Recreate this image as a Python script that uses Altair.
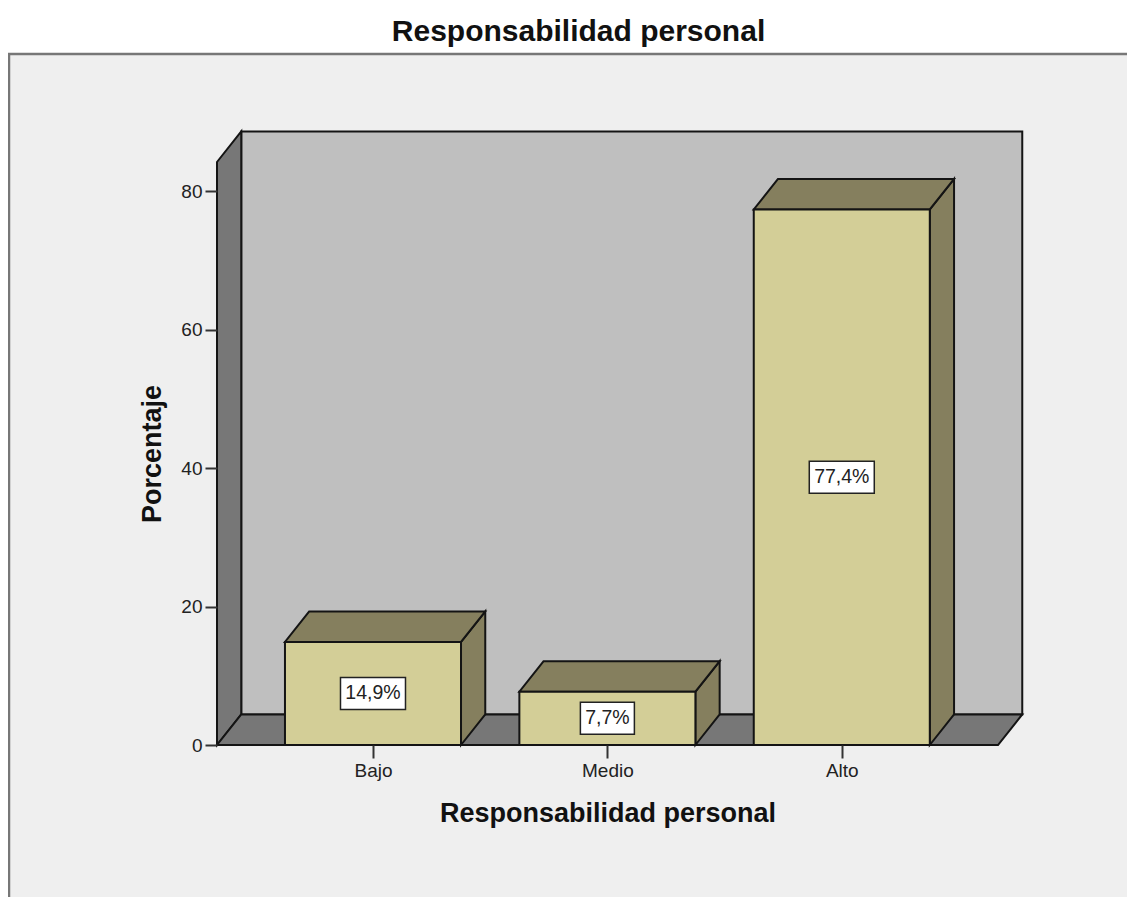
import altair as alt
import pandas as pd

categories = ["Bajo", "Medio", "Alto"]
values = [14.9, 7.7, 77.4]
labels = ["14,9%", "7,7%", "77,4%"]
y_ticks = [0, 20, 40, 60, 80]

PW, PH = 781, 583
XMIN, XMAX = -0.6655, 2.6665
YMAX = 84.25
HALF = 0.3755
DX, DY = 0.1035, 4.41
PX_X = (XMAX - XMIN) / PW
PX_Y = YMAX / PH

FRONT = "#d3ce97"
SIDE = "#857f5e"
WALL = "#777777"
BACK = "#bfbfbf"
PANEL = "#efefef"
LINE = "#141414"
FONT = "Liberation Sans"

xs = alt.Scale(domain=[XMIN, XMAX], nice=False, zero=False)
ys = alt.Scale(domain=[0, YMAX], nice=False, zero=False)
X = alt.X("x:Q", scale=xs, axis=alt.Axis(
    values=[0, 1, 2], labelExpr="['Bajo','Medio','Alto'][datum.value]", zindex=1,
    title="Responsabilidad personal", titleFont=FONT, titleFontSize=27, titleFontWeight="bold",
    titleColor="#111111", titlePadding=20, labelFont=FONT, labelFontSize=19, labelColor="#222222",
    labelPadding=3, tickSize=13, tickWidth=2, tickColor="#333333", domain=False, grid=False))
Y = alt.Y("y:Q", scale=ys, axis=alt.Axis(
    values=y_ticks, format="d", title="Porcentaje", titleFont=FONT, titleFontSize=27, zindex=1,
    titleFontWeight="bold", titleColor="#111111", titlePadding=14, labelFont=FONT, labelFontSize=19,
    labelColor="#222222", labelPadding=3, tickSize=12, tickWidth=2, tickColor="#333333",
    domain=False, grid=False))

# panel behind the chart
panel = alt.Chart(pd.DataFrame({"a": [0]})).mark_rect(fill=PANEL).encode(
    x=alt.value(-209), x2=alt.value(910), y=alt.value(-108), y2=alt.value(735))
frame_top = alt.Chart(pd.DataFrame({"a": [0]})).mark_rule(color=WALL, strokeWidth=2.5).encode(
    x=alt.value(-209), x2=alt.value(910), y=alt.value(-108))
frame_left = alt.Chart(pd.DataFrame({"a": [0]})).mark_rule(color=WALL, strokeWidth=2.5).encode(
    x=alt.value(-208), y=alt.value(-108), y2=alt.value(735))

# vertical-edged parallelograms (left wall, bar sides)
vert, horiz, front = [], [], []
vert += [
    {"face": "wall", "fill": WALL, "x": XMIN, "y": YMAX, "y2": 0},
    {"face": "wall", "fill": WALL, "x": XMIN + DX, "y": YMAX + DY, "y2": DY},
]
horiz += [
    {"face": "floor", "fill": WALL, "y": 0, "x": XMIN, "x2": XMAX},
    {"face": "floor", "fill": WALL, "y": DY, "x": XMIN + DX, "x2": XMAX + DX},
]
back = pd.DataFrame([{"x": XMIN + DX, "x2": XMAX + DX, "y": DY, "y2": YMAX + DY}])
for i, v in enumerate(values):
    l, r = i - HALF, i + HALF
    vert += [
        {"face": f"s{i}", "fill": SIDE, "x": r, "y": v, "y2": 0},
        {"face": f"s{i}", "fill": SIDE, "x": r + DX, "y": v + DY, "y2": DY},
    ]
    horiz += [
        {"face": f"t{i}", "fill": SIDE, "y": v, "x": l, "x2": r},
        {"face": f"t{i}", "fill": SIDE, "y": v + DY, "x": l + DX, "x2": r + DX},
    ]
    front.append({"x": l, "x2": r, "y": 0, "y2": v})

vdf, hdf, fdf = pd.DataFrame(vert), pd.DataFrame(horiz), pd.DataFrame(front)
stroke = dict(stroke=LINE, strokeWidth=2, strokeJoin="miter")

back_l = alt.Chart(back).mark_rect(fill=BACK, **stroke).encode(x=X, x2="x2:Q", y=alt.Y("y:Q", scale=ys), y2="y2:Q")
vert_l = lambda d: alt.Chart(d).mark_area(orient="vertical", **stroke).encode(
    x=X, y=alt.Y("y:Q", scale=ys), y2="y2:Q", detail="face:N", fill=alt.Fill("fill:N", scale=None))
horiz_l = lambda d: alt.Chart(d).mark_area(orient="horizontal", **stroke).encode(
    x=alt.X("x:Q", scale=xs), x2="x2:Q", y=Y, detail="face:N", fill=alt.Fill("fill:N", scale=None))

walls_v = vert_l(vdf[vdf.face == "wall"])
walls_h = horiz_l(hdf[hdf.face == "floor"])
sides = vert_l(vdf[vdf.face != "wall"])
tops = horiz_l(hdf[hdf.face != "floor"])
fronts = alt.Chart(fdf).mark_rect(fill=FRONT, **stroke).encode(
    x=alt.X("x:Q", scale=xs), x2="x2:Q", y=alt.Y("y:Q", scale=ys), y2="y2:Q")

box_w = [65, 54, 65]
box_h = 32
lab = pd.DataFrame({
    "x": [i - box_w[i] * PX_X / 2 for i in range(3)],
    "x2": [i + box_w[i] * PX_X / 2 for i in range(3)],
    "xc": [0, 1, 2],
    "y": [v / 2 - box_h * PX_Y / 2 for v in values],
    "y2": [v / 2 + box_h * PX_Y / 2 for v in values],
    "yc": [v / 2 for v in values],
    "label": labels,
})
boxes = alt.Chart(lab).mark_rect(fill="white", stroke="#222222", strokeWidth=1.5).encode(
    x=alt.X("x:Q", scale=xs), x2="x2:Q", y=alt.Y("y:Q", scale=ys), y2="y2:Q")
texts = alt.Chart(lab).mark_text(font=FONT, fontSize=19.5, color="#222222", align="center", baseline="middle").encode(
    x=alt.X("xc:Q", scale=xs), y=alt.Y("yc:Q", scale=ys), text="label:N")

chart = alt.layer(panel, frame_top, frame_left, back_l, walls_v, walls_h, sides, tops, fronts, boxes, texts).properties(
    width=PW, height=PH,
    autosize=alt.AutoSizeParams(type="none"),
    padding={"left": 209, "top": 154, "right": 129, "bottom": 152},
    title=alt.TitleParams("Responsabilidad personal", font=FONT, fontSize=30, fontWeight="bold",
                          color="#111111", anchor="middle", dx=-29, offset=6),
).configure_view(stroke=None).resolve_scale(x="shared", y="shared")

chart.save("out.html", embed_options={"renderer": "svg", "actions": False})
